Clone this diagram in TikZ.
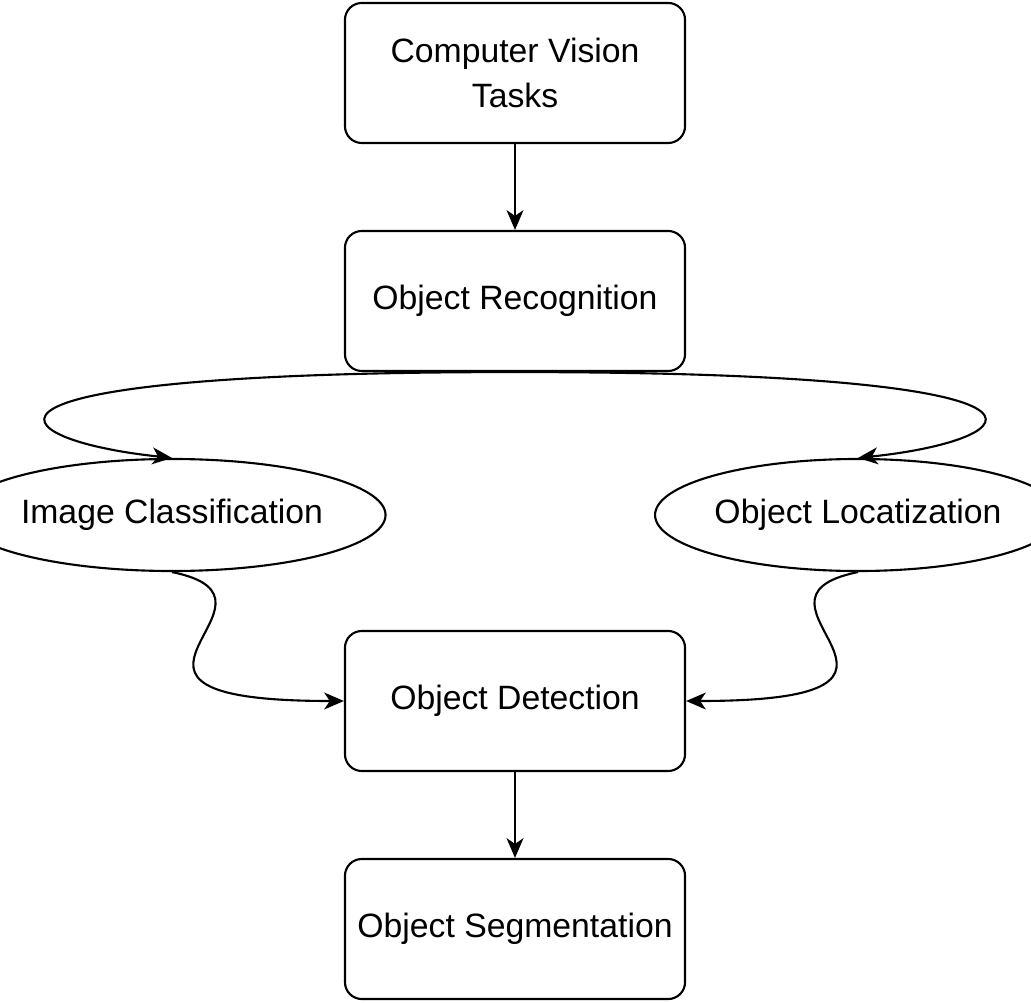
\documentclass[tikz,border=0pt]{standalone}
\usepackage{fontspec}
\setmainfont{Liberation Sans}
\usetikzlibrary{shapes.geometric,arrows.meta}
\tikzset{
  box/.style={draw, rounded corners=12pt, line width=1.5pt, minimum width=8.5cm, minimum height=3.5cm, align=center, font=\fontsize{24}{32}\selectfont},
  oval/.style={draw, ellipse, line width=1.5pt, minimum width=8.45cm, minimum height=2.8cm, inner sep=0pt, font=\fontsize{24}{32}\selectfont},
  link/.style={line width=1.5pt, -{Stealth[length=14pt,width=12pt,inset=4pt]}}
}
\begin{document}
\begin{tikzpicture}[x=0.025cm, y=-0.025cm]
    \useasboundingbox (0,0) rectangle (1031,1003);
    \node[box] (cv) at (515,73) {Computer Vision\\Tasks};
    \node[box] (rec) at (515,301) {Object Recognition};
    \node[oval] (cls) at (172,515) {Image Classification};
    \node[oval] (loc) at (858,515) {Object Locatization};
    \node[box] (det) at (515,701) {Object Detection};
    \node[box] (seg) at (515,929) {Object Segmentation};
    \draw[link] (cv) -- (rec);
    \draw[link] (det) -- (seg);
    % curved connectors
    \draw[link] (rec.south) .. controls (-80,372) and (0,440) .. (cls.north);
    \draw[link] (rec.south) .. controls (1110,372) and (1030,440) .. (loc.north);
    \draw[link] (cls.south) .. controls (310,600) and (50,701) .. (det.west);
    \draw[link] (loc.south) .. controls (720,600) and (980,701) .. (det.east);
\end{tikzpicture}
\end{document}
